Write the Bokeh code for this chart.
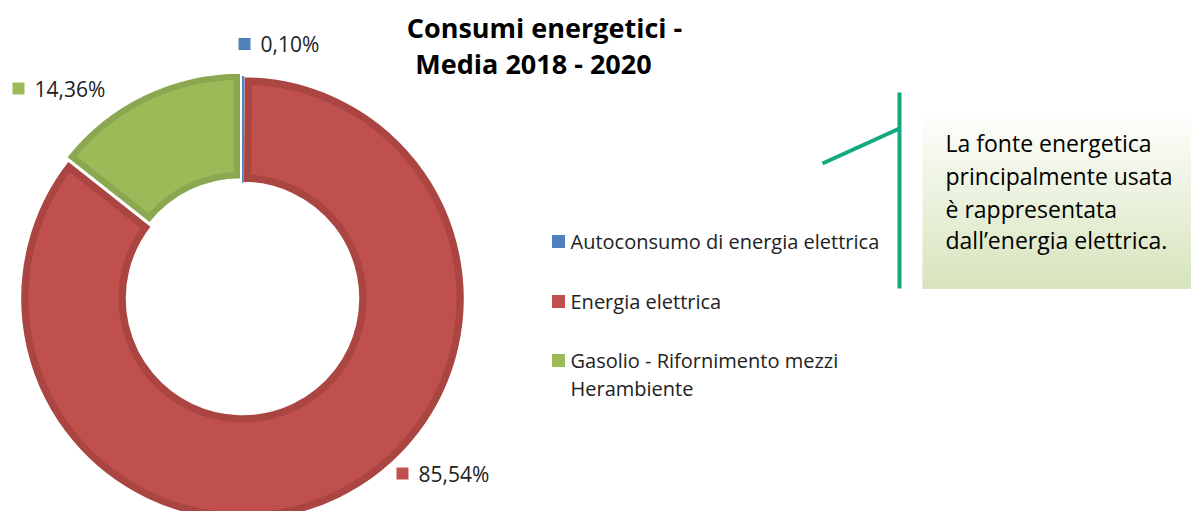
import numpy as np
from bokeh.plotting import figure
from bokeh.models import Range1d
from bokeh.core.properties import value
from bokeh.embed import file_html
from bokeh.resources import INLINE

# ---------------- data ----------------
categories = ["Autoconsumo di energia elettrica",
              "Energia elettrica",
              "Gasolio - Rifornimento mezzi\nHerambiente"]
shares = [0.10, 85.54, 14.36]
share_labels = ["0,10%", "85,54%", "14,36%"]
title_lines = ["Consumi energetici -", "Media 2018 - 2020"]
note_lines = ["La fonte energetica", "principalmente usata",
              "è rappresentata", "dall\u2019energia elettrica."]

# ---------------- style ----------------
fill_colors = ["#4F81BD", "#C0504D", "#9BBB59"]
border_colors = ["#4F81BD", "#AA4542", "#8BA850"]
border_w = [0, 8, 7]
explode = [0, 0, 4]
FONT = "Open Sans"

W, H = 1191, 511
def Y(img_y):
    return H - img_y

p = figure(width=W, height=H, x_range=Range1d(0, W), y_range=Range1d(0, H),
           output_backend="svg", toolbar_location=None, min_border=0)
p.xaxis.visible = False
p.yaxis.visible = False
p.grid.visible = False
p.outline_line_color = None
p.background_fill_color = "white"
p.border_fill_color = "white"

# ---------------- donut ----------------
cx, cy = 242, Y(298)
r_in, r_out = 116, 222
total = sum(shares)
cum = np.cumsum([0] + shares)
end_rad = np.deg2rad(90 - cum[:-1] / total * 360.0)
start_rad = np.deg2rad(90 - cum[1:] / total * 360.0)

def inset_sector(x0, y0, r0, r1, a0, a1, t, n=200):
    ro, ri = r1 - t, r0 + t
    ao0, ao1 = a0 + np.arcsin(t / ro), a1 - np.arcsin(t / ro)
    ai0, ai1 = a0 + np.arcsin(t / ri), a1 - np.arcsin(t / ri)
    outer = np.linspace(ao0, ao1, n)
    inner = np.linspace(ai1, ai0, n)
    xs = np.r_[x0 + ro * np.cos(outer), x0 + ri * np.cos(inner)]
    ys = np.r_[y0 + ro * np.sin(outer), y0 + ri * np.sin(inner)]
    return list(xs), list(ys)

order = [1, 2, 0]
for i in order:
    mid = (start_rad[i] + end_rad[i]) / 2
    ox = cx + explode[i] * np.cos(mid)
    oy = cy + explode[i] * np.sin(mid)
    p.annular_wedge(x=ox, y=oy, inner_radius=r_in, outer_radius=r_out,
                    start_angle=float(start_rad[i]), end_angle=float(end_rad[i]),
                    fill_color=border_colors[i],
                    line_color="white" if i != 0 else fill_colors[i],
                    line_width=1.5 if i != 0 else 1.0)
    if border_w[i] > 0:
        xs, ys = inset_sector(ox, oy, r_in, r_out, start_rad[i], end_rad[i], border_w[i])
        p.patch(xs, ys, fill_color=fill_colors[i], line_color=None)

# ---------------- data labels ----------------
label_pos = [(244, 43.5), (402, 473), (18, 88)]
for i, (lx, ly) in enumerate(label_pos):
    p.scatter([lx], [Y(ly)], marker="square", size=12, fill_color=fill_colors[i],
              line_color=None)
    p.text([lx + 16], [Y(ly)], text=[share_labels[i]], text_font=value(FONT),
           text_font_size="21px", text_color="#222222", text_baseline="middle",
           text_align="left")

# ---------------- title ----------------
p.text([544, 533], [Y(27), Y(62.5)], text=title_lines, text_font=value(FONT),
       text_font_size="27px", text_font_style="bold", text_color="black",
       text_align="center", text_baseline="middle")

# ---------------- legend ----------------
leg_y = [241, 301, 360]
for i, cat in enumerate(categories):
    p.scatter([558], [Y(leg_y[i])], marker="square", size=13,
              fill_color=fill_colors[i], line_color=None)
    for j, ln in enumerate(cat.split("\n")):
        p.text([570], [Y(leg_y[i] - 0.5 + 28 * j)], text=[ln], text_font=value(FONT),
               text_font_size="20px", text_color="#222222",
               text_align="left", text_baseline="middle")

# ---------------- callout ----------------
g_top, g_bot = 108, 288
n_strips = 90
edges = np.linspace(g_top, g_bot, n_strips + 1)
c0 = np.array([255, 255, 255])
c1 = np.array([215, 228, 188])
cols = []
for k in range(n_strips):
    f = (k + 0.5) / n_strips
    c = (c0 + (c1 - c0) * f).round().astype(int)
    cols.append("#%02x%02x%02x" % tuple(c))
p.quad(left=922, right=1200, top=[Y(e) for e in edges[:-1]],
       bottom=[Y(e) - 0.6 for e in edges[1:]], fill_color=cols, line_color=None)

teal = "#13A87E"
p.line([899, 899], [Y(92), Y(288)], line_color=teal, line_width=4)
p.line([822, 899], [Y(163), Y(128)], line_color=teal, line_width=4)

p.text([945] * 4, [Y(142), Y(175), Y(208), Y(239)], text=note_lines,
       text_font=value(FONT), text_font_size="23px", text_color="black",
       text_align="left", text_baseline="middle")

open("out.html", "w").write(file_html(p, INLINE))
